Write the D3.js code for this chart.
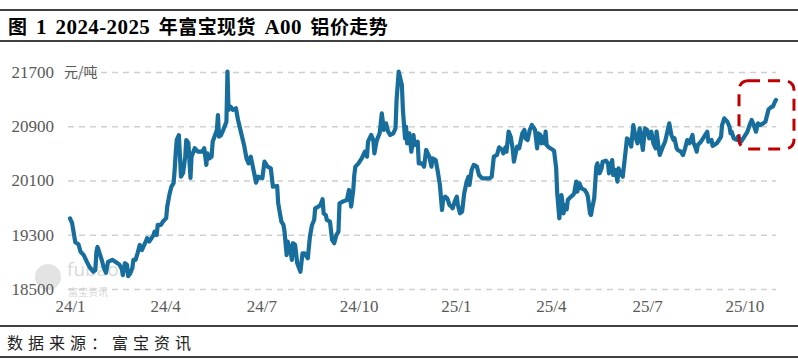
<!DOCTYPE html>
<html>
<head>
<meta charset="utf-8">
<script src="https://cdn.jsdelivr.net/npm/d3@7/dist/d3.min.js"></script>
<style>
  body { margin: 0; background: #fff; }
</style>
</head>
<body>
<script>
// 富宝现货 A00 铝价 (元/吨)
let priceSeries = [
  ['2024-01-02',19540],['2024-01-04',19470],['2024-01-07',19190],['2024-01-10',19160],['2024-01-12',19050],
  ['2024-01-15',19000],['2024-01-18',18900],['2024-01-21',18810],['2024-01-24',18755],['2024-01-26',18780],
  ['2024-01-27',19050],['2024-01-28',19120],['2024-01-29',19075],['2024-02-01',18930],['2024-02-03',18810],
  ['2024-02-05',18740],['2024-02-07',18900],['2024-02-11',18930],['2024-02-15',18890],['2024-02-18',18855],
  ['2024-02-20',18795],['2024-02-21',18705],['2024-02-23',18880],['2024-02-25',18855],['2024-02-26',18690],
  ['2024-02-28',18730],['2024-03-01',18810],['2024-03-02',18930],['2024-03-04',18930],['2024-03-06',19030],
  ['2024-03-08',19150],['2024-03-10',19075],['2024-03-13',19175],['2024-03-15',19250],['2024-03-17',19200],
  ['2024-03-21',19295],['2024-03-22',19345],['2024-03-24',19295],['2024-03-25',19445],['2024-03-28',19445],
  ['2024-03-30',19495],['2024-04-02',19545],['2024-04-03',19715],['2024-04-05',19885],['2024-04-07',20010],
  ['2024-04-09',20060],['2024-04-10',20250],['2024-04-11',20500],['2024-04-12',20700],['2024-04-14',20770],
  ['2024-04-16',20156],['2024-04-18',20210],['2024-04-20',20451],['2024-04-21',20697],['2024-04-23',20653],
  ['2024-04-25',20137],['2024-04-26',20451],['2024-04-29',20575],['2024-05-02',20525],['2024-05-06',20525],
  ['2024-05-08',20575],['2024-05-10',20330],['2024-05-11',20500],['2024-05-13',20427],['2024-05-15',20451],
  ['2024-05-16',20672],['2024-05-20',20845],['2024-05-21',21066],['2024-05-22',20746],['2024-05-24',20771],
  ['2024-05-26',20845],['2024-05-29',20967],['2024-05-30',21705],['2024-05-31',21140],['2024-06-02',21188],
  ['2024-06-04',21140],['2024-06-07',21165],['2024-06-09',20992],['2024-06-12',20796],['2024-06-15',20600],
  ['2024-06-17',20427],['2024-06-19',20353],['2024-06-21',20451],['2024-06-23',20304],['2024-06-26',20068],
  ['2024-06-28',20156],['2024-07-02',20132],['2024-07-04',20378],['2024-07-07',20304],['2024-07-10',20280],
  ['2024-07-12',20009],['2024-07-16',20019],['2024-07-17',19764],['2024-07-20',19493],['2024-07-22',19444],
  ['2024-07-23',19345],['2024-07-25',19000],['2024-07-26',19198],['2024-07-29',19026],['2024-07-30',18930],
  ['2024-07-31',19175],['2024-08-02',19150],['2024-08-04',18880],['2024-08-07',18755],['2024-08-09',19026],
  ['2024-08-11',19026],['2024-08-14',18952],['2024-08-16',19271],['2024-08-18',19444],['2024-08-20',19518],
  ['2024-08-21',19690],['2024-08-24',19715],['2024-08-26',19739],['2024-08-28',19823],['2024-08-29',19616],
  ['2024-08-31',19591],['2024-09-01',19518],['2024-09-04',19493],['2024-09-06',19223],['2024-09-08',19175],
  ['2024-09-10',19296],['2024-09-12',19345],['2024-09-13',19764],['2024-09-16',19788],['2024-09-20',19812],
  ['2024-09-22',19960],['2024-09-24',19715],['2024-09-26',19960],['2024-09-27',20181],['2024-09-28',20304],
  ['2024-10-01',20353],['2024-10-04',20427],['2024-10-07',20525],['2024-10-09',20451],['2024-10-10',20672],
  ['2024-10-13',20771],['2024-10-15',20697],['2024-10-16',20500],['2024-10-18',20672],['2024-10-19',20722],
  ['2024-10-21',20796],['2024-10-23',21090],['2024-10-25',20845],['2024-10-27',20943],['2024-10-29',20820],
  ['2024-10-31',20771],['2024-11-03',20796],['2024-11-05',20870],['2024-11-06',21287],['2024-11-08',21705],
  ['2024-11-11',21508],['2024-11-12',21140],['2024-11-14',20722],['2024-11-15',20893],['2024-11-16',20648],
  ['2024-11-18',20796],['2024-11-20',20525],['2024-11-22',20771],['2024-11-23',20623],['2024-11-26',20672],
  ['2024-11-27',20353],['2024-11-30',20353],['2024-12-02',20304],['2024-12-04',20550],['2024-12-07',20451],
  ['2024-12-09',20304],['2024-12-10',20427],['2024-12-13',20402],['2024-12-15',20230],['2024-12-17',20034],
  ['2024-12-19',19665],['2024-12-20',19812],['2024-12-22',19862],['2024-12-24',19837],['2024-12-26',19739],
  ['2024-12-28',19715],['2024-12-29',19690],['2024-12-31',19788],['2025-01-02',19862],['2025-01-03',19739],
  ['2025-01-05',19616],['2025-01-07',19640],['2025-01-09',19911],['2025-01-11',20060],['2025-01-13',20156],
  ['2025-01-14',20034],['2025-01-16',20255],['2025-01-18',20329],['2025-01-21',20304],['2025-01-23',20181],
  ['2025-01-26',20132],['2025-02-02',20132],['2025-02-04',20156],['2025-02-06',20451],['2025-02-09',20476],
  ['2025-02-11',20589],['2025-02-14',20550],['2025-02-15',20500],['2025-02-17',20589],['2025-02-18',20525],
  ['2025-02-20',20820],['2025-02-22',20746],['2025-02-24',20550],['2025-02-25',20378],['2025-02-28',20600],
  ['2025-03-02',20575],['2025-03-05',20796],['2025-03-07',20845],['2025-03-08',20722],['2025-03-10',20697],
  ['2025-03-12',20845],['2025-03-14',20918],['2025-03-17',20845],['2025-03-19',20575],['2025-03-20',20796],
  ['2025-03-22',20771],['2025-03-23',20648],['2025-03-25',20746],['2025-03-26',20648],['2025-03-27',20820],
  ['2025-03-28',20623],['2025-03-30',20589],['2025-04-02',20560],['2025-04-04',20540],['2025-04-06',20280],
  ['2025-04-07',19911],['2025-04-09',19543],['2025-04-11',19886],['2025-04-12',19764],['2025-04-13',19616],
  ['2025-04-14',19739],['2025-04-16',19675],['2025-04-17',19812],['2025-04-20',19862],['2025-04-22',19886],
  ['2025-04-23',19911],['2025-04-25',20083],['2025-04-26',19935],['2025-04-28',20060],['2025-04-30',19985],
  ['2025-05-03',19960],['2025-05-05',19911],['2025-05-06',19862],['2025-05-08',19616],['2025-05-09',19591],
  ['2025-05-10',19690],['2025-05-12',19837],['2025-05-14',20304],['2025-05-15',20353],['2025-05-17',20206],
  ['2025-05-19',20280],['2025-05-20',20378],['2025-05-23',20393],['2025-05-25',20353],['2025-05-26',20206],
  ['2025-05-29',20402],['2025-05-30',20181],['2025-06-01',20255],['2025-06-03',20083],['2025-06-04',20280],
  ['2025-06-06',20206],['2025-06-08',20156],['2025-06-11',20575],['2025-06-12',20722],['2025-06-14',20697],
  ['2025-06-16',20600],['2025-06-18',20918],['2025-06-20',20745],['2025-06-22',20648],['2025-06-24',20870],
  ['2025-06-26',20672],['2025-06-27',20550],['2025-06-29',20870],['2025-07-01',20845],['2025-07-03',20722],
  ['2025-07-05',20820],['2025-07-07',20648],['2025-07-09',20575],['2025-07-10',20820],['2025-07-12',20575],
  ['2025-07-13',20476],['2025-07-16',20600],['2025-07-18',20672],['2025-07-21',20870],['2025-07-22',20943],
  ['2025-07-24',20771],['2025-07-26',20697],['2025-07-27',20722],['2025-07-29',20575],['2025-07-30',20550],
  ['2025-08-02',20525],['2025-08-04',20476],['2025-08-06',20575],['2025-08-08',20697],['2025-08-10',20648],
  ['2025-08-13',20771],['2025-08-14',20648],['2025-08-15',20623],['2025-08-17',20525],['2025-08-18',20623],
  ['2025-08-21',20672],['2025-08-23',20722],['2025-08-27',20820],['2025-08-28',20672],['2025-08-31',20697],
  ['2025-09-01',20609],['2025-09-05',20648],['2025-09-07',20697],['2025-09-09',20746],['2025-09-10',20918],
  ['2025-09-12',21017],['2025-09-15',20967],['2025-09-17',20893],['2025-09-18',20796],['2025-09-19',20820],
  ['2025-09-21',20722],['2025-09-24',20697],['2025-09-25',20746],['2025-09-28',20672],['2025-09-30',20722],
  ['2025-10-04',20820],['2025-10-06',20918],['2025-10-08',20992],['2025-10-10',20918],['2025-10-12',20820],
  ['2025-10-14',20943],['2025-10-16',20918],['2025-10-19',20943],['2025-10-21',20967],['2025-10-23',21090],
  ['2025-10-24',21150],['2025-10-27',21188],['2025-10-28',21188],['2025-10-30',21262],['2025-10-31',21287]
];
let yTicks = [18500, 19300, 20100, 20900, 21700];
let xTicks = ['2024-01-02', '2024-04-01', '2024-07-01', '2024-10-01', '2025-01-01', '2025-04-01', '2025-07-01', '2025-10-01'];
let highlightDates = ['2025-09-26', '2025-11-17'];
let highlightValues = [21570, 20565];

let parseDate = d3.timeParse('%Y-%m-%d');
let data = priceSeries.map(function(d) { return {date: parseDate(d[0]), value: d[1]}; });

let W = 798, H = 364;
let svg = d3.select('body').append('svg').attr('width', W).attr('height', H);

let x = d3.scaleTime()
  .domain([parseDate('2024-01-02'), parseDate('2025-10-31')])
  .range([70, 776]);
let y = d3.scaleLinear().domain([18500, 21700]).range([289, 72]);

let serif = '"Liberation Serif", "Noto Sans CJK SC", serif';
let cjk = '"Noto Sans CJK SC", "Liberation Serif", sans-serif';

// frame rules
[10, 41, 326, 357].forEach(function(yy) {
  svg.append('line').attr('x1', 0).attr('x2', W).attr('y1', yy).attr('y2', yy)
    .attr('stroke', '#000').attr('stroke-width', 1.5);
});

// title: latin parts a bit larger, like the reference
let titleParts = [['图', 19], [' 1 2024-2025 ', 21], ['年富宝现货', 19], [' A00 ', 21], ['铝价走势', 19]];
let title = svg.append('text').attr('x', 8).attr('y', 34)
  .attr('font-family', serif).attr('font-weight', 'bold').attr('fill', '#000')
  .attr('letter-spacing', '0.4px').attr('word-spacing', '3px')
  .attr('xml:space', 'preserve').style('white-space', 'pre');
titleParts.forEach(function(p) {
  title.append('tspan').attr('font-size', p[1] + 'px').text(p[0]);
});

svg.append('text').attr('x', 7).attr('y', 349)
  .attr('font-family', cjk).attr('font-size', '16px').attr('letter-spacing', '5px').attr('fill', '#222')
  .text('数据来源：富宝资讯');

// watermark
let wm = svg.append('g').attr('fill', '#d9d9d9');
wm.append('circle').attr('cx', 48).attr('cy', 277).attr('r', 13).attr('fill', '#e3e3e3');
wm.append('text').attr('x', 67).attr('y', 276).attr('font-family', '"Open Sans", sans-serif')
  .attr('font-size', '19px').text('fubao');
wm.append('text').attr('x', 68).attr('y', 296).attr('font-family', cjk)
  .attr('font-size', '10px').text('富宝资讯');

// y grid + labels
let yAxis = d3.axisLeft(y).tickValues(yTicks).tickSize(-(776 - 68)).tickPadding(14).tickFormat(d3.format('d'));
let gy = svg.append('g').attr('transform', 'translate(68,0)').call(yAxis);
gy.select('.domain').remove();
gy.selectAll('.tick line').attr('stroke', '#d0d0d0').attr('stroke-width', 1.5).attr('stroke-dasharray', '6,5');
gy.selectAll('.tick text').attr('font-family', serif).attr('font-size', '17px').attr('fill', '#595959');

// x labels
let xAxis = d3.axisBottom(x).tickValues(xTicks.map(parseDate)).tickSize(0).tickPadding(11)
  .tickFormat(d3.timeFormat('%y/%-m'));
let gx = svg.append('g').attr('transform', 'translate(0,289)').call(xAxis);
gx.select('.domain').remove();
gx.selectAll('.tick text').attr('font-family', serif).attr('font-size', '17px').attr('fill', '#595959');

svg.append('text').attr('x', 64).attr('y', 77)
  .attr('font-family', cjk).attr('font-size', '14px').attr('fill', '#595959')
  .text('元/吨');

// price line
let line = d3.line().x(function(d) { return x(d.date); }).y(function(d) { return y(d.value); });
svg.append('path').datum(data).attr('d', line)
  .attr('fill', 'none').attr('stroke', '#176e9c').attr('stroke-width', 4.2)
  .attr('stroke-linejoin', 'round').attr('stroke-linecap', 'round');

// highlight box
let hx0 = x(parseDate(highlightDates[0])), hx1 = x(parseDate(highlightDates[1]));
let hy0 = y(highlightValues[0]), hy1 = y(highlightValues[1]);
svg.append('rect').attr('x', hx0).attr('y', hy0).attr('width', hx1 - hx0).attr('height', hy1 - hy0)
  .attr('rx', 9).attr('fill', 'none').attr('stroke', '#c00000').attr('stroke-width', 3)
  .attr('stroke-dasharray', '12,8');
</script>
</body>
</html>
